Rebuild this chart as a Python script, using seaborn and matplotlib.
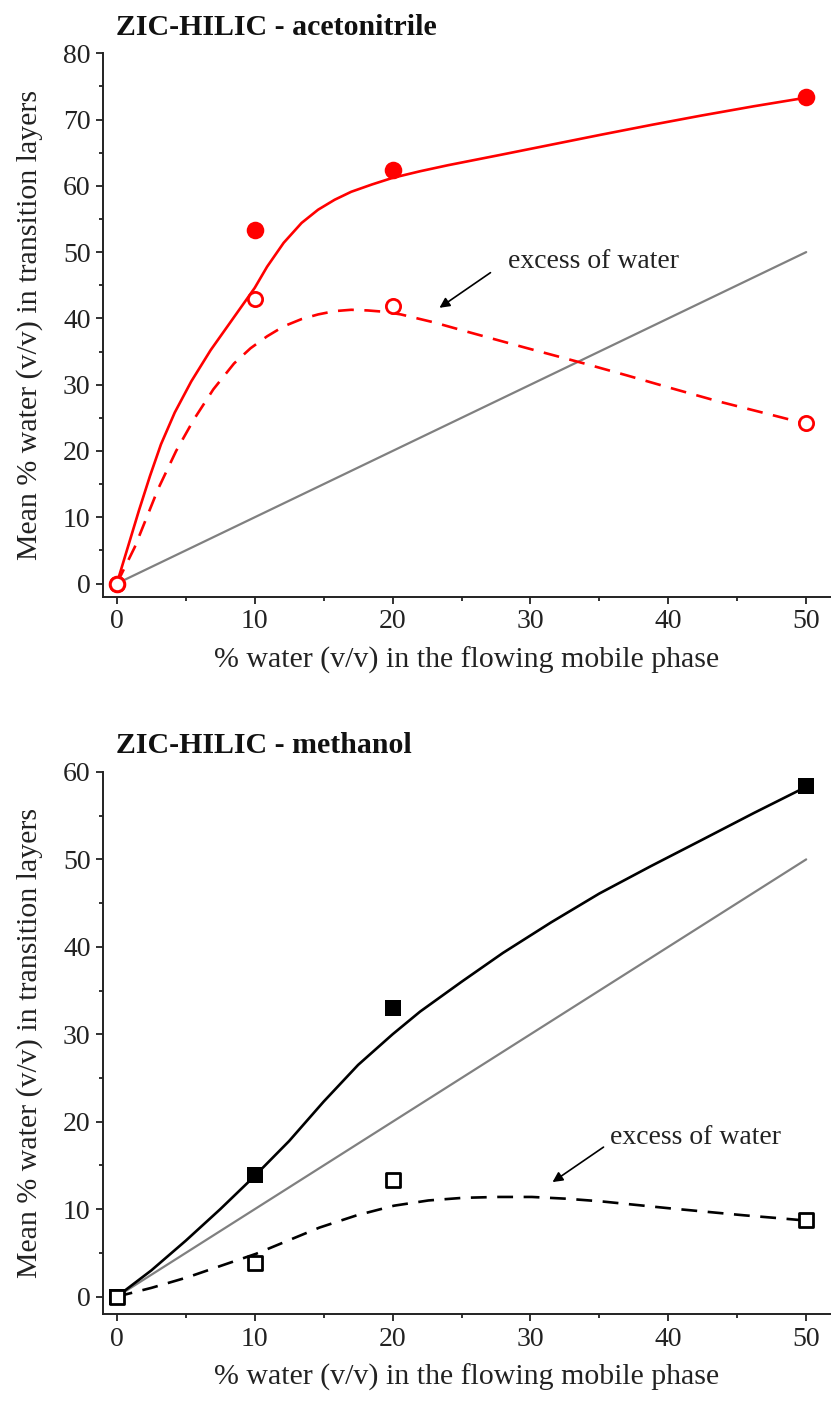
# Two-panel plot: mean % water in transition layers vs % water in mobile phase
import numpy as np
import pandas as pd
import matplotlib
matplotlib.use("Agg")
import matplotlib.pyplot as plt
import seaborn as sns

sns.set_style("ticks")
plt.rcParams['font.family'] = ['Liberation Serif', 'DejaVu Serif']
plt.rcParams['mathtext.fontset'] = 'stix'

# measured points (x = % water in flowing mobile phase)
x_pts = [0, 10, 20, 50]
acn_total = [0, 53.3, 62.4, 73.4]
acn_excess = [0, 42.9, 41.9, 24.2]
meoh_total = [0, 13.9, 33.0, 58.4]
meoh_excess = [0, 3.9, 13.3, 8.8]

# fitted curves
acn_fit_x = [0, 0.8, 1.6, 2.4, 3.2, 4.2, 5.4, 6.8, 8.4, 10.0, 10.9, 12.1, 13.4, 14.6, 15.8, 17.0, 18.5, 20, 22, 24, 27.9, 31.5, 35.1, 38.8, 42.4, 46.2, 50]
acn_fit_y = [0, 5.5, 11.0, 16.2, 21.0, 25.8, 30.5, 35.2, 39.9, 44.6, 47.8, 51.4, 54.4, 56.4, 57.9, 59.1, 60.2, 61.2, 62.2, 63.1, 64.7, 66.2, 67.7, 69.2, 70.6, 72.0, 73.3]
acn_exc_x = [0, 1.3, 3.0, 4.3, 5.6, 7.0, 8.5, 9.7, 10.9, 12.1, 13.4, 14.6, 15.8, 17.0, 18.2, 19.4, 20.6, 23, 25.4, 29.6, 33.9, 37, 40, 43.6, 47.2, 50]
acn_exc_y = [0, 5.5, 14.3, 20.0, 24.8, 29.3, 33.2, 35.5, 37.3, 38.8, 39.9, 40.6, 41.1, 41.3, 41.2, 41.0, 40.6, 39.4, 38.0, 35.6, 33.2, 31.4, 29.6, 27.5, 25.6, 24.1]
meoh_fit_x = [0, 2.5, 5, 7.5, 10, 12.5, 15, 17.5, 20, 22, 25, 28, 31.5, 35, 38.7, 42.4, 46.2, 50]
meoh_fit_y = [0, 3.0, 6.4, 10.0, 13.8, 17.8, 22.3, 26.5, 30.0, 32.6, 36.0, 39.3, 42.8, 46.1, 49.2, 52.2, 55.3, 58.3]
meoh_exc_x = [0, 2.5, 5.1, 7.5, 10.1, 12.4, 14.7, 17.4, 20.1, 22.6, 25.1, 27.6, 30.1, 32.6, 35.1, 37.6, 40.1, 42.8, 45.5, 47.8, 50]
meoh_exc_y = [0, 1.0, 2.2, 3.5, 4.9, 6.4, 7.9, 9.3, 10.4, 11.0, 11.3, 11.4, 11.4, 11.2, 10.9, 10.5, 10.1, 9.7, 9.3, 9.0, 8.7]
ref_x = [0, 50]
ref_y = [0, 50]

panels = [
    dict(title='ZIC-HILIC - acetonitrile', color='#ff0000', marker='o',
         total=acn_total, excess=acn_excess,
         fit=(acn_fit_x, acn_fit_y), exc=(acn_exc_x, acn_exc_y),
         ylim=(-2, 80), yticks=np.arange(0, 81, 10),
         arrow_text=(28.4, 48.6), arrow_tail=(27.1, 46.9), arrow_tip=(23.4, 41.6),
         pos=[0.124, 0.574, 0.876, 0.388], ms_fill=160, ms_open=105),
    dict(title='ZIC-HILIC - methanol', color='black', marker='s',
         total=meoh_total, excess=meoh_excess,
         fit=(meoh_fit_x, meoh_fit_y), exc=(meoh_exc_x, meoh_exc_y),
         ylim=(-2, 60), yticks=np.arange(0, 61, 10),
         arrow_text=(35.8, 18.2), arrow_tail=(35.3, 17.1), arrow_tip=(31.6, 13.1),
         pos=[0.124, 0.062, 0.876, 0.387], ms_fill=130, ms_open=95),
]

fig = plt.figure(figsize=(8.31, 14.01), dpi=100)

for p in panels:
    ax = fig.add_axes(p['pos'])
    c = p['color']

    # reference line y = x
    sns.lineplot(x=ref_x, y=ref_y, ax=ax, color='#808080', linewidth=1.6)
    # fitted curves
    sns.lineplot(x=p['fit'][0], y=p['fit'][1], ax=ax, color=c, linewidth=1.9, sort=False)
    sns.lineplot(x=p['exc'][0], y=p['exc'][1], ax=ax, color=c, linewidth=1.9,
                 linestyle=(0, (6, 4)), sort=False)
    # data points
    sns.scatterplot(x=x_pts, y=p['total'], ax=ax, marker=p['marker'], s=p['ms_fill'],
                    color=c, edgecolor=c, linewidth=0, zorder=5)
    sns.scatterplot(x=x_pts, y=p['excess'], ax=ax, marker=p['marker'], s=p['ms_open'],
                    facecolor='white', edgecolor=c, linewidth=2, zorder=5)

    ax.annotate('', xy=p['arrow_tip'], xytext=p['arrow_tail'],
                arrowprops=dict(arrowstyle='-|>', color='black', lw=1.2,
                                mutation_scale=15, shrinkA=0, shrinkB=0))
    ax.text(p['arrow_text'][0], p['arrow_text'][1], 'excess of water',
            fontsize=20, va='center', ha='left', color='#222222')

    ax.set_xlim(-1, 51.8)
    ax.set_ylim(*p['ylim'])
    ax.set_xticks([0, 10, 20, 30, 40, 50])
    ax.set_xticks([5, 15, 25, 35, 45], minor=True)
    ax.set_yticks(p['yticks'])
    ax.set_yticks(p['yticks'][:-1] + 5, minor=True)
    ax.tick_params(axis='both', which='major', direction='out', length=5, width=1.3,
                   labelsize=20, color='#222222', labelcolor='#222222', pad=4)
    ax.tick_params(axis='both', which='minor', direction='out', length=3, width=1.3,
                   color='#222222')
    sns.despine(ax=ax)
    for s in ['left', 'bottom']:
        ax.spines[s].set_linewidth(1.4)
        ax.spines[s].set_color('#222222')
    ax.set_xlabel('% water (v/v) in the flowing mobile phase', fontsize=21.5, color='#222222', labelpad=9)
    ax.set_ylabel('Mean % water (v/v) in transition layers', fontsize=21.5, color='#222222', labelpad=14)

    top_px = (1 - p['pos'][1] - p['pos'][3]) * 1401
    fig.text(116 / 831, 1 - (top_px - 26) / 1401, p['title'], fontsize=21.5,
             fontweight='bold', ha='left', va='center', color='#111111')

fig.savefig('out.png', dpi=100)
